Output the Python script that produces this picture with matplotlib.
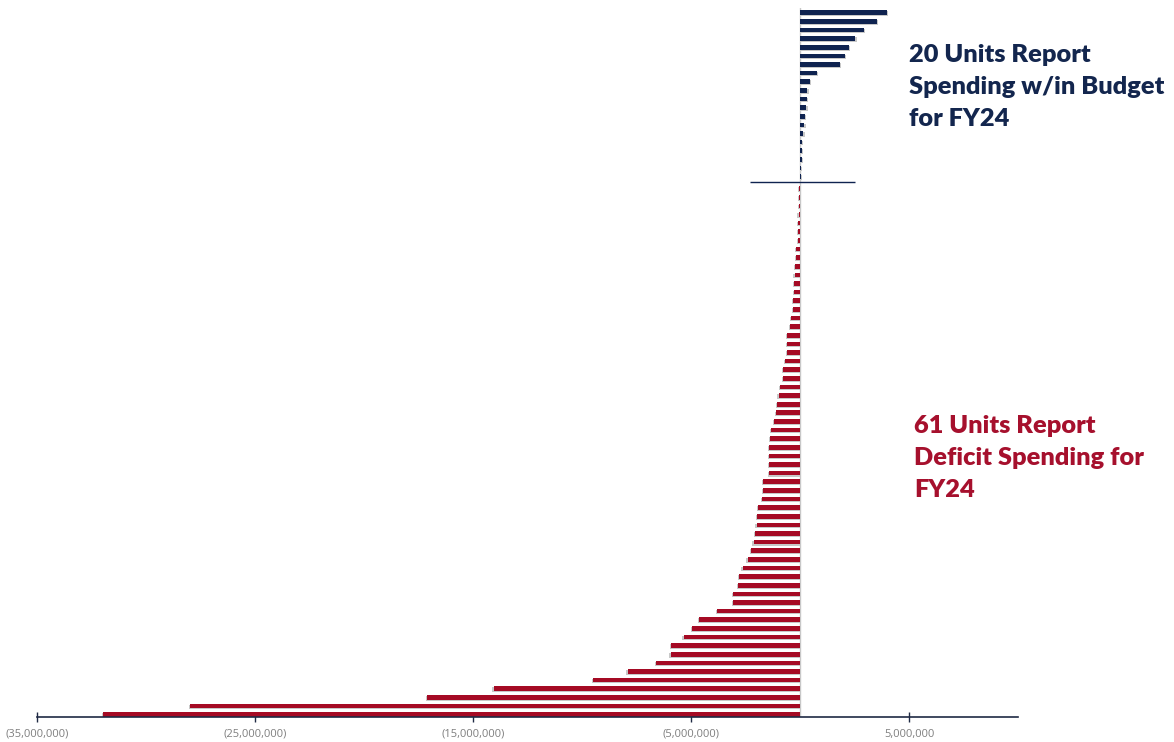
import matplotlib.pyplot as plt
import numpy as np
from matplotlib.ticker import FuncFormatter

# units reporting spending within budget (FY24), millions of dollars
surplus = [3.99, 3.51, 2.92, 2.54, 2.23, 2.04, 1.83, 0.78, 0.44, 0.33,
           0.32, 0.29, 0.23, 0.20, 0.15, 0.09, 0.07, 0.07, 0.04, 0.04]

# units reporting deficit spending (FY24), millions of dollars
deficit = [0.03, 0.03, 0.046, 0.06, 0.077, 0.077, 0.092, 0.168, 0.18, 0.23,
           0.245, 0.26, 0.275, 0.306, 0.306, 0.40, 0.44, 0.58, 0.60, 0.60,
           0.69, 0.765, 0.765, 0.92, 0.98, 1.04, 1.09, 1.19, 1.33, 1.38,
           1.41, 1.42, 1.42, 1.42, 1.71, 1.71, 1.73, 1.93, 1.97, 2.00,
           2.05, 2.13, 2.23, 2.40, 2.63, 2.81, 2.83, 3.06, 3.06, 3.82,
           4.64, 4.96, 5.35, 5.91, 5.94, 6.62, 7.91, 9.50, 14.07, 17.10,
           28.0, 31.97]

tick_values = [-35e6, -25e6, -15e6, -5e6, 5e6]

navy = '#0F2350'
red = '#A50A24'
shadow = '#C8C8C8'

pos_vals = np.array(surplus) * 1e6
neg_vals = -np.array(deficit) * 1e6
y_pos = np.arange(len(pos_vals))
y_neg = np.arange(len(neg_vals)) + len(pos_vals) + 0.4

fig = plt.figure(figsize=(11.74, 7.42), dpi=100)
ax = fig.add_axes([0.0319, 0.0337, 0.8352, 0.9555])

h = 0.54
ax.axvline(0, color='#C8C8C8', lw=1.0, zorder=0)
# soft drop shadow behind the bars
ax.barh(y_pos + 0.12, pos_vals + 6e4, height=h, color=shadow, zorder=1)
ax.barh(y_neg + 0.12, neg_vals - 6e4, height=h, color=shadow, zorder=1)
ax.barh(y_pos, pos_vals, height=h, color=navy, zorder=2)
ax.barh(y_neg, neg_vals, height=h, color=red, zorder=2)

ax.hlines(len(pos_vals) - 0.4, -2.3e6, 2.5e6, color=navy, lw=1, zorder=4)

ax.set_xlim(-35e6, 10e6)
ax.set_ylim(y_neg[-1] + 0.28, -0.55)

for s in ['top', 'right', 'left']:
    ax.spines[s].set_visible(False)
ax.spines['bottom'].set_color('#1F2A44')
ax.spines['bottom'].set_linewidth(1.2)
ax.spines['bottom'].set_zorder(5)
ax.set_yticks([])
ax.set_xticks(tick_values)


def money(v, p):
    if v < 0:
        return '({:,.0f})'.format(-v)
    return '{:,.0f}'.format(v)


ax.xaxis.set_major_formatter(FuncFormatter(money))
ax.tick_params(axis='x', direction='inout', length=7, width=1, color='#1F2A44',
               labelcolor='#7F7F7F', labelsize=8, pad=5)
for t in ax.get_xticklabels():
    t.set_fontfamily('Open Sans')

fig.text(909 / 1174, 1 - 44 / 742, '20 Units Report\nSpending w/in Budget\nfor FY24',
         color='#13264E', fontsize=18.3, fontweight='heavy', family='Lato',
         va='top', ha='left', linespacing=1.55)
fig.text(914 / 1174, 1 - 415 / 742, '61 Units Report\nDeficit Spending for\nFY24',
         color='#A6102D', fontsize=18.3, fontweight='heavy', family='Lato',
         va='top', ha='left', linespacing=1.55)

fig.savefig('out.png', dpi=100)
